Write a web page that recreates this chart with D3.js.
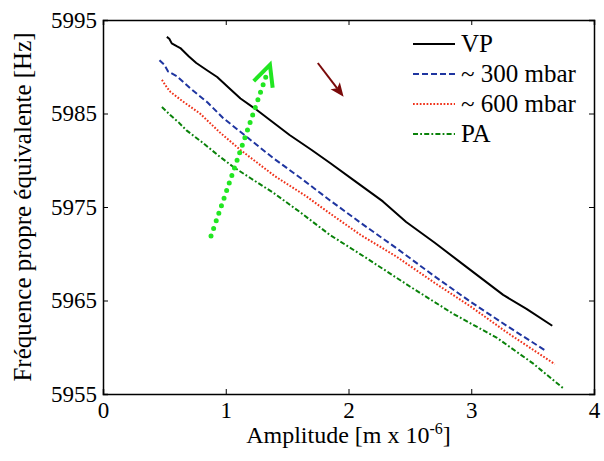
<!DOCTYPE html>
<html><head><meta charset="utf-8">
<script src="https://cdn.jsdelivr.net/npm/d3@7"></script>
</head><body style="margin:0">
<svg id="c" width="604" height="461"></svg>
<script>
const xTicks=[0,1,2,3,4];
const yTicks=[5955,5965,5975,5985,5995];
const seriesNames=["VP","~ 300 mbar","~ 600 mbar","PA"];
const vp=[[0.52,5993.2],[0.54,5993.0],[0.56,5992.5],[0.60,5992.2],[0.63,5992.0],[0.70,5991.1],[0.76,5990.4],[0.85,5989.6],[0.93,5988.9],[1.02,5987.8],[1.12,5986.6],[1.24,5985.5],[1.36,5984.3],[1.52,5982.7],[1.70,5981.1],[1.85,5979.7],[2.05,5977.8],[2.28,5975.6],[2.47,5973.4],[2.70,5971.2],[2.96,5968.6],[3.26,5965.6],[3.45,5964.1],[3.66,5962.3]];
const mbar300=[[0.46,5990.7],[0.50,5990.2],[0.53,5989.5],[0.60,5989.0],[0.71,5987.7],[0.85,5986.2],[0.98,5984.5],[1.18,5982.4],[1.39,5980.2],[1.62,5978.0],[1.85,5975.7],[2.10,5973.3],[2.39,5970.6],[2.70,5967.6],[2.99,5964.9],[3.30,5962.2],[3.61,5959.6]];
const mbar600=[[0.48,5988.6],[0.52,5987.8],[0.55,5987.3],[0.65,5986.3],[0.79,5985.0],[0.95,5983.0],[1.12,5981.1],[1.40,5978.3],[1.65,5976.2],[1.85,5974.3],[2.10,5972.0],[2.39,5969.7],[2.70,5966.9],[2.99,5964.4],[3.30,5961.5],[3.68,5958.2]];
const pa=[[0.48,5985.7],[0.52,5985.2],[0.55,5984.8],[0.62,5984.0],[0.68,5983.2],[0.80,5982.0],[0.95,5980.4],[1.06,5979.3],[1.20,5978.1],[1.39,5976.5],[1.60,5974.5],[1.85,5972.0],[2.15,5969.5],[2.50,5966.5],[2.85,5963.6],[3.21,5961.0],[3.50,5958.3],[3.76,5955.5]];
const greenArrow=[[0.88,5971.9],[1.36,5990.2]];
const redArrow=[[1.75,5990.4],[1.96,5986.8]];

const FF='"Liberation Serif"';
const svg=d3.select("#c");
const L=103,R=594,T=20,B=394;
const x=d3.scaleLinear().domain([0,4]).range([L,R]);
const y=d3.scaleLinear().domain([5955,5995]).range([B,T]);
const line=d3.line().x(d=>x(d[0])).y(d=>y(d[1]));

const styles=[
 {c:"#000000",d:null,w:2},
 {c:"#1f35a0",d:"6,3",w:2},
 {c:"#f0321a",d:"1.7,1.7",w:2},
 {c:"#0a820a",d:"5,2.2,1.8,2.2",w:2}
];
const data=[vp,mbar300,mbar600,pa];

data.forEach((s,i)=>{
 svg.append("path").datum(s).attr("d",line).attr("fill","none").attr("stroke",styles[i].c).attr("stroke-width",styles[i].w).attr("stroke-dasharray",styles[i].d).attr("stroke-linejoin","round");
});

const tickLen=5;
const gx=svg.append("g").attr("transform",`translate(0,${B})`).call(d3.axisBottom(x).tickValues(xTicks).tickSize(-tickLen).tickPadding(8).tickFormat(d3.format("d")));
const gy=svg.append("g").attr("transform",`translate(${L},0)`).call(d3.axisLeft(y).tickValues(yTicks).tickSize(-tickLen).tickPadding(6).tickFormat(d3.format("d")));
const gx2=svg.append("g").attr("transform",`translate(0,${T})`).call(d3.axisTop(x).tickValues(xTicks).tickSize(-tickLen).tickFormat(""));
const gy2=svg.append("g").attr("transform",`translate(${R},0)`).call(d3.axisRight(y).tickValues(yTicks).tickSize(-tickLen).tickFormat(""));
[gx,gy,gx2,gy2].forEach(g=>{g.attr("font-family",null).attr("font-size",null);g.select(".domain").attr("stroke","#000").attr("stroke-width",1.5);g.selectAll(".tick line").attr("stroke","#000").attr("stroke-width",1);g.selectAll("text").style("font-family",FF).style("font-size","23px").attr("fill","#000");});

const [g0,g1]=greenArrow.map(p=>[x(p[0]),y(p[1])]);
svg.append("line").attr("x1",g0[0]).attr("y1",g0[1]).attr("x2",g1[0]-0.07*(g1[0]-g0[0])).attr("y2",g1[1]-0.07*(g1[1]-g0[1]))
 .attr("stroke","#22e622").attr("stroke-width",5).attr("stroke-linecap","round").attr("stroke-dasharray","0,8");
{
 const ang=Math.atan2(g1[1]-g0[1],g1[0]-g0[0]);
 const hl=23, ha=0.45;
 const a1=[g1[0]-hl*Math.cos(ang-ha),g1[1]-hl*Math.sin(ang-ha)];
 const a2=[g1[0]-hl*Math.cos(ang+ha),g1[1]-hl*Math.sin(ang+ha)];
 svg.append("path").attr("d",`M${a1}L${g1}L${a2}`).attr("fill","none").attr("stroke","#22e622").attr("stroke-width",4).attr("stroke-linejoin","miter");
}
const [r0,r1]=redArrow.map(p=>[x(p[0]),y(p[1])]);
{
 const ang=Math.atan2(r1[1]-r0[1],r1[0]-r0[0]);
 const hl=15, ha=0.4;
 const base=[r1[0]-hl*0.7*Math.cos(ang),r1[1]-hl*0.7*Math.sin(ang)];
 svg.append("line").attr("x1",r0[0]).attr("y1",r0[1]).attr("x2",base[0]).attr("y2",base[1]).attr("stroke","#7a0a0a").attr("stroke-width",2);
 const a1=[r1[0]-hl*Math.cos(ang-ha),r1[1]-hl*Math.sin(ang-ha)];
 const a2=[r1[0]-hl*Math.cos(ang+ha),r1[1]-hl*Math.sin(ang+ha)];
 svg.append("path").attr("d",`M${r1}L${a1}L${base}L${a2}Z`).attr("fill","#7a0a0a");
}

seriesNames.forEach((n,i)=>{
 const yy=44+i*30;
 svg.append("line").attr("x1",413).attr("x2",455).attr("y1",yy).attr("y2",yy).attr("stroke",styles[i].c).attr("stroke-width",2).attr("stroke-dasharray",styles[i].d);
 svg.append("text").attr("x",461).attr("y",yy+8).style("font-family",FF).style("font-size","25px").text(n);
});

const xl=svg.append("text").attr("x",(L+R)/2).attr("y",443).attr("text-anchor","middle").style("font-family",FF).style("font-size","24px");
xl.append("tspan").text("Amplitude [m x 10");
xl.append("tspan").attr("dy",-9).style("font-size","16px").text("-6");
xl.append("tspan").attr("dy",9).text("]");
svg.append("text").attr("transform",`translate(31,${(T+B)/2}) rotate(-90)`).attr("text-anchor","middle").style("font-family",FF).style("font-size","25px").text("Fréquence propre équivalente [Hz]");
</script></body></html>
